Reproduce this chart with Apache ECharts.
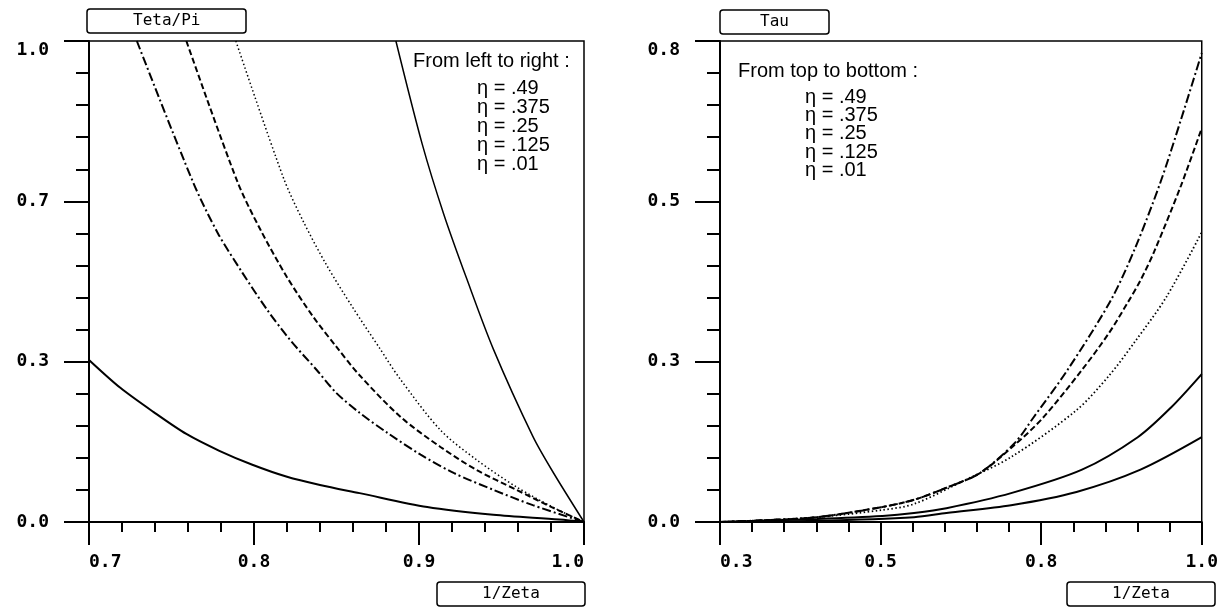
<!DOCTYPE html>
<html>
<head>
<meta charset="utf-8">
<script src="https://cdn.jsdelivr.net/npm/echarts@6/dist/echarts.min.js"></script>
<style>
html,body{margin:0;padding:0;background:#fff;}
#chart{width:1221px;height:607px;}
</style>
</head>
<body>
<div id="chart"></div>
<script>
// ---------- texts ----------
const leftYName = 'Teta/Pi';
const rightYName = 'Tau';
const xName = '1/Zeta';
const leftNote = 'From left to right :';
const rightNote = 'From top to bottom :';
const etaLabels = ['.49', '.375', '.25', '.125', '.01'];

// ---------- axes ----------
const leftXRange = [0.7, 1.0];
const leftYRange = [0.0, 1.0];
const rightXRange = [0.3, 1.0];
const rightYRange = [0.0, 0.8];
const leftXTickLabels = ['0.7', '0.8', '0.9', '1.0'];
const leftYTickLabels = ['0.0', '0.3', '0.7', '1.0'];
const rightXTickLabels = ['0.3', '0.5', '0.8', '1.0'];
const rightYTickLabels = ['0.0', '0.3', '0.5', '0.8'];

// ---------- left panel: Teta/Pi vs 1/Zeta ----------
const leftX_49  = [0.700, 0.719, 0.739, 0.759, 0.779, 0.799, 0.820, 0.840, 0.864, 0.905, 0.945, 0.985, 1.000];
const leftY_49  = [0.337, 0.279, 0.229, 0.183, 0.148, 0.119, 0.094, 0.077, 0.060, 0.031, 0.015, 0.005, 0.000];
const leftX_375 = [0.729, 0.763, 0.778, 0.793, 0.808, 0.822, 0.838, 0.850, 0.864, 0.881, 0.901, 0.921, 0.945, 0.969, 1.000];
const leftY_375 = [1.000, 0.707, 0.601, 0.518, 0.441, 0.378, 0.316, 0.268, 0.227, 0.185, 0.140, 0.102, 0.067, 0.035, 0.000];
const leftX_25  = [0.759, 0.790, 0.804, 0.820, 0.836, 0.850, 0.864, 0.889, 0.913, 0.935, 0.959, 0.981, 1.000];
const leftY_25  = [1.000, 0.707, 0.607, 0.509, 0.426, 0.364, 0.305, 0.218, 0.156, 0.108, 0.067, 0.030, 0.000];
const leftX_125 = [0.789, 0.818, 0.830, 0.844, 0.860, 0.876, 0.888, 0.913, 0.935, 0.959, 0.981, 1.000];
const leftY_125 = [1.000, 0.714, 0.624, 0.534, 0.445, 0.362, 0.300, 0.191, 0.129, 0.073, 0.031, 0.000];
const leftX_01  = [0.886, 0.902, 0.915, 0.929, 0.945, 0.969, 0.981, 1.000];
const leftY_01  = [1.000, 0.785, 0.640, 0.505, 0.360, 0.178, 0.105, 0.000];

// ---------- right panel: Tau vs 1/Zeta ----------
const rightX_49  = [0.300, 0.347, 0.441, 0.536, 0.582, 0.629, 0.677, 0.728, 0.755, 0.805, 0.868, 0.903, 0.940, 0.970, 1.000];
const rightY_49  = [0.000, 0.002, 0.008, 0.025, 0.037, 0.057, 0.081, 0.131, 0.173, 0.253, 0.369, 0.455, 0.565, 0.670, 0.780];
const rightX_375 = [0.300, 0.347, 0.441, 0.536, 0.582, 0.629, 0.677, 0.728, 0.769, 0.826, 0.865, 0.893, 0.911, 0.931, 0.970, 1.000];
const rightY_375 = [0.000, 0.002, 0.008, 0.025, 0.037, 0.057, 0.081, 0.128, 0.173, 0.253, 0.314, 0.366, 0.402, 0.450, 0.560, 0.655];
const rightX_25  = [0.300, 0.347, 0.441, 0.536, 0.582, 0.653, 0.723, 0.818, 0.865, 0.903, 0.949, 1.000];
const rightY_25  = [0.000, 0.002, 0.008, 0.020, 0.030, 0.068, 0.108, 0.186, 0.243, 0.300, 0.375, 0.482];
const rightX_125 = [0.300, 0.441, 0.536, 0.582, 0.629, 0.723, 0.826, 0.907, 0.955, 1.000];
const rightY_125 = [0.000, 0.005, 0.010, 0.015, 0.023, 0.048, 0.087, 0.141, 0.190, 0.246];
const rightX_01  = [0.300, 0.441, 0.582, 0.629, 0.723, 0.818, 0.911, 1.000];
const rightY_01  = [0.000, 0.002, 0.008, 0.015, 0.028, 0.050, 0.087, 0.141];

// ---------- build ----------
const zip = (xs, ys) => xs.map((x, i) => [x, ys[i]]);
const monoFont = 'DejaVu Sans Mono';
const sansFont = '"Liberation Sans", Arial, sans-serif';

function xAxisOf(gi, range, interval, labels) {
  return {
    type: 'value', gridIndex: gi, min: range[0], max: range[1], interval: interval,
    axisLine: { show: true, onZero: false, lineStyle: { color: '#000', width: 2 } },
    axisTick: { show: true, length: 23, lineStyle: { color: '#000', width: 2 } },
    minorTick: { show: true, splitNumber: 5, length: 10, lineStyle: { color: '#000', width: 2 } },
    splitLine: { show: false }, minorSplitLine: { show: false },
    axisLabel: {
      margin: 31, fontFamily: monoFont, fontSize: 18, fontWeight: 'bold', color: '#000',
      formatter: (v, i) => (labels[i] !== undefined ? labels[i] : ''),
      alignMinLabel: 'left', alignMaxLabel: 'right'
    }
  };
}
function yAxisOf(gi, range, interval, labels) {
  return {
    type: 'value', gridIndex: gi, min: range[0], max: range[1], interval: interval,
    axisLine: { show: true, onZero: false, lineStyle: { color: '#000', width: 2 } },
    axisTick: { show: true, length: 25, lineStyle: { color: '#000', width: 2 } },
    minorTick: { show: true, splitNumber: 5, length: 13, lineStyle: { color: '#000', width: 2 } },
    splitLine: { show: false }, minorSplitLine: { show: false },
    axisLabel: {
      margin: 40, fontFamily: monoFont, fontSize: 18, fontWeight: 'bold', color: '#000',
      formatter: (v, i) => (labels[i] !== undefined ? labels[i] : ''),
      verticalAlignMaxLabel: 'top'
    }
  };
}
function line(name, xi, data, width, type) {
  return {
    name: name, type: 'line', xAxisIndex: xi, yAxisIndex: xi, data: data,
    symbol: 'none', smooth: 0.3, clip: true, silent: true,
    lineStyle: { color: '#000', width: width, type: type }
  };
}
function boxTitle(text, left, top, padH) {
  return {
    text: text, left: left, top: top, padding: [4, padH],
    borderColor: '#000', borderWidth: 1.5, borderRadius: 3,
    textStyle: { fontFamily: monoFont, fontSize: 16, fontWeight: 'normal', color: '#000', lineHeight: 16 }
  };
}

const dashDot = [9, 3, 2, 3];
const dashed = [6, 3];
const dotted = [1.5, 2.5];

const option = {
  backgroundColor: '#fff',
  animation: false,
  title: [
    boxTitle(leftYName, 87, 9, 46),
    boxTitle(rightYName, 720, 10, 40),
    boxTitle(xName, 437, 582, 45),
    boxTitle(xName, 1067, 582, 45)
  ],
  grid: [
    { left: 89, top: 41, width: 495, height: 481, show: true, borderColor: '#000', borderWidth: 1.5, backgroundColor: 'transparent' },
    { left: 720, top: 41, width: 496, height: 481, show: true, borderColor: '#000', borderWidth: 1.5, backgroundColor: 'transparent' }
  ],
  xAxis: [
    xAxisOf(0, leftXRange, 0.1, leftXTickLabels),
    xAxisOf(1, rightXRange, 0.7 / 3, rightXTickLabels)
  ],
  yAxis: [
    yAxisOf(0, leftYRange, 1 / 3, leftYTickLabels),
    yAxisOf(1, rightYRange, 0.8 / 3, rightYTickLabels)
  ],
  series: [
    line('η = .49',   0, zip(leftX_49, leftY_49),   2,   'solid'),
    line('η = .375',  0, zip(leftX_375, leftY_375), 2,   dashDot),
    line('η = .25',   0, zip(leftX_25, leftY_25),   2,   dashed),
    line('η = .125',  0, zip(leftX_125, leftY_125), 1.5, dotted),
    line('η = .01',   0, zip(leftX_01, leftY_01),   1.5, 'solid'),
    line('η = .49',   1, zip(rightX_49, rightY_49),   2,   dashDot),
    line('η = .375',  1, zip(rightX_375, rightY_375), 2,   dashed),
    line('η = .25',   1, zip(rightX_25, rightY_25),   1.8, dotted),
    line('η = .125',  1, zip(rightX_125, rightY_125), 2,   'solid'),
    line('η = .01',   1, zip(rightX_01, rightY_01),   2,   'solid')
  ],
  graphic: [
    { type: 'text', left: 413, top: 51, silent: true,
      style: { text: leftNote, font: '20px ' + sansFont, fill: '#000' } },
    { type: 'text', left: 477, top: 78, silent: true,
      style: { text: etaLabels.map(e => 'η = ' + e).join('\n'), font: '20px ' + sansFont, lineHeight: 19, fill: '#000' } },
    { type: 'text', left: 738, top: 61, silent: true,
      style: { text: rightNote, font: '20px ' + sansFont, fill: '#000' } },
    { type: 'text', left: 805, top: 87, silent: true,
      style: { text: etaLabels.map(e => 'η = ' + e).join('\n'), font: '20px ' + sansFont, lineHeight: 18.4, fill: '#000' } }
  ]
};

const chart = echarts.init(document.getElementById('chart'), null, { renderer: 'canvas' });
chart.setOption(option);
</script>
</body>
</html>
